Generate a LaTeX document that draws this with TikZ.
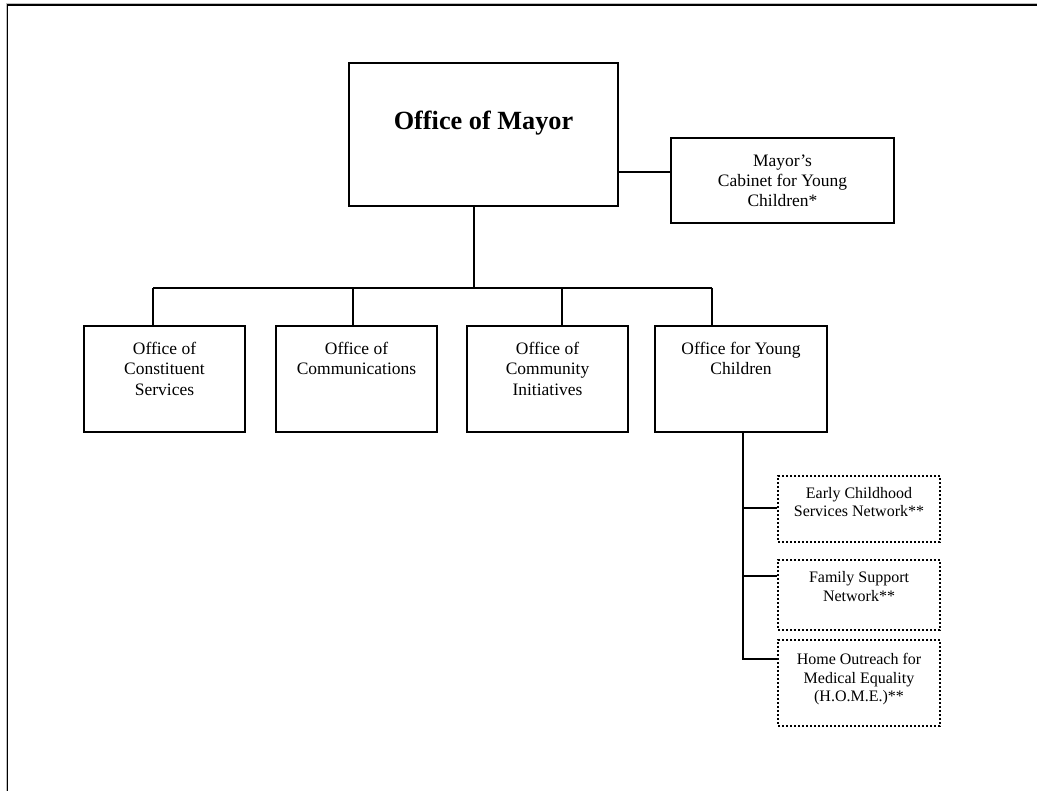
\documentclass[tikz,border=0pt]{standalone}
\usepackage{fontspec}
\setmainfont{Liberation Serif}
\begin{document}
\begin{tikzpicture}[x=0.75pt,y=-0.75pt,
  box/.style={draw, line width=1.5pt, inner sep=0pt, anchor=north west},
  dbox/.style={draw, line width=1.5pt, dash pattern=on 1.5pt off 1.5pt, inner sep=0pt, anchor=north west},
  sz/.style 2 args={minimum width=#1*0.75pt, minimum height=#2*0.75pt},
  conn/.style={line width=1.5pt},
  txt/.style={align=center, inner sep=0pt, anchor=north, font=\fontsize{13.1}{15.4}\selectfont},
  stxt/.style={align=center, inner sep=0pt, anchor=north, font=\fontsize{12}{13.9}\selectfont}]
\useasboundingbox (0,0) rectangle (1037,791);
% outer frame
\draw[black!25, line width=0.6pt] (6.3,791) -- (6.3,3.7) -- (1037,3.7);
\draw[line width=1.1pt] (7.7,791) -- (7.7,5) -- (1037,5);
% boxes
\node[box, sz={269}{143}] (mayor) at (348,62) {};
\node[box, sz={223}{85}] (cab) at (670,137) {};
\node[box, sz={161}{106}] (b1) at (83,325) {};
\node[box, sz={161}{106}] (b2) at (275,325) {};
\node[box, sz={161}{106}] (b3) at (466,325) {};
\node[box, sz={172}{106}] (b4) at (654,325) {};
\node[dbox, sz={162}{66}] (d1) at (777,475) {};
\node[dbox, sz={162}{70}] (d2) at (777,559) {};
\node[dbox, sz={162}{86}] (d3) at (777,639) {};
% texts
\node[anchor=north, inner sep=0pt, font=\fontsize{19.7}{23}\selectfont\bfseries] (tmayor) at ([yshift=-48.5*0.75pt]mayor.north) {Office of Mayor};
\node[txt, anchor=center, font=\fontsize{13.1}{15}\selectfont] (tcab) at (cab.center) {Mayor’s\\Cabinet for Young\\Children*};
\node[txt] (tb1) at ([yshift=-16.7*0.75pt]b1.north) {Office of\\Constituent\\Services};
\node[txt] (tb2) at ([yshift=-16.7*0.75pt]b2.north) {Office of\\Communications};
\node[txt] (tb3) at ([yshift=-16.7*0.75pt]b3.north) {Office of\\Community\\Initiatives};
\node[txt] (tb4) at ([yshift=-16.7*0.75pt]b4.north) {Office for Young\\Children};
\node[stxt] (td1) at ([yshift=-11.7*0.75pt]d1.north) {Early Childhood\\Services Network**};
\node[stxt] (td2) at ([yshift=-12.2*0.75pt]d2.north) {Family Support\\Network**};
\node[stxt] (td3) at ([yshift=-14*0.75pt]d3.north) {Home Outreach for\\Medical Equality\\(H.O.M.E.)**};
% connectors
\coordinate (mv) at (474,288);
\coordinate (v1) at (153,288);
\coordinate (v2) at (353,288);
\coordinate (v3) at (562,288);
\coordinate (v4) at (712,288);
\draw[conn] (mayor.south -| mv) -- (mv);
\draw[conn] (v1) -- (v4);
\draw[conn] (v1) -- (v1 |- b1.north);
\draw[conn] (v2) -- (v2 |- b2.north);
\draw[conn] (v3) -- (v3 |- b3.north);
\draw[conn] (v4) -- (v4 |- b4.north);
\coordinate (cy) at (0,172);
\draw[conn] (mayor.east |- cy) -- (cab.west |- cy);
% sub-network connectors
\coordinate (y1) at (0,508);
\coordinate (y2) at (0,576);
\coordinate (y3) at (0,659);
\draw[conn] ([xshift=1.5pt]b4.south) -- ([xshift=1.5pt]b4.south |- y3) -- (d3.west |- y3);
\draw[conn] ([xshift=1.5pt]b4.south |- y1) -- (d1.west |- y1);
\draw[conn] ([xshift=1.5pt]b4.south |- y2) -- (d2.west |- y2);
\end{tikzpicture}
\end{document}
